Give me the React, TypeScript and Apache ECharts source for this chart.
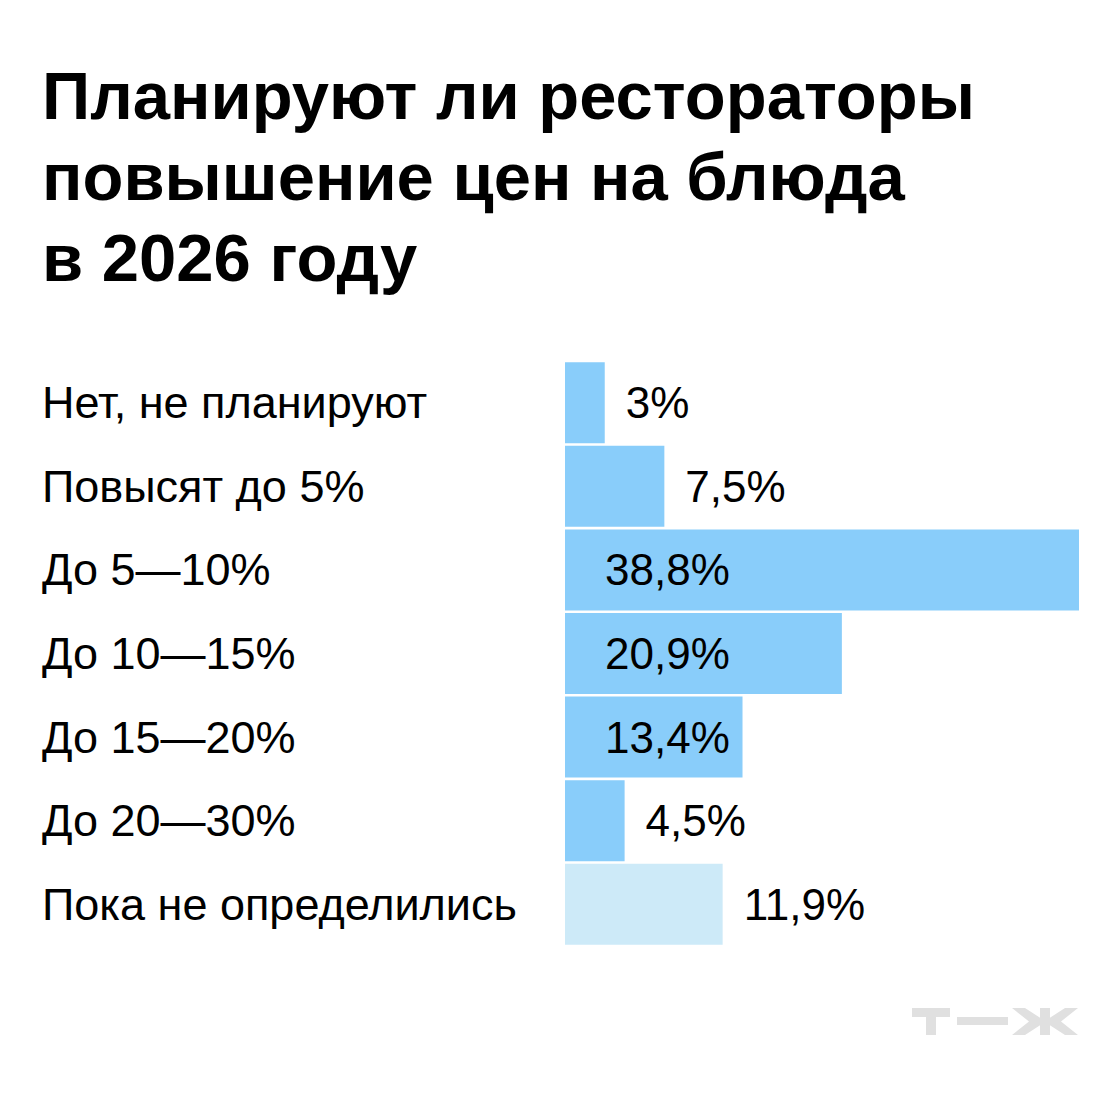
import React, { useEffect, useRef } from "react";
import * as echarts from "echarts";

const titleText = "Планируют ли рестораторы\nповышение цен на блюда\nв 2026 году";
const categories = [
  "Нет, не планируют",
  "Повысят до 5%",
  "До 5—10%",
  "До 10—15%",
  "До 15—20%",
  "До 20—30%",
  "Пока не определились",
];
const values = [3, 7.5, 38.8, 20.9, 13.4, 4.5, 11.9];
const valueLabels = ["3%", "7,5%", "38,8%", "20,9%", "13,4%", "4,5%", "11,9%"];
const labelInside = [false, false, true, true, true, false, false];
const undecided = [false, false, false, false, false, false, true];

const FONT = "'Liberation Sans', Arial, sans-serif";
const BAR = "#89CDFA";
const BAR_LIGHT = "#CDEAF8";
const LOGO = "#E0E0E0";

export default function App() {
  const ref = useRef<HTMLDivElement>(null);
  useEffect(() => {
    if (!ref.current) return;
    const chart = echarts.init(ref.current, null, { renderer: "svg" });
    const data = values.map((v, i) => ({
      value: v,
      itemStyle: { color: undecided[i] ? BAR_LIGHT : BAR },
      label: labelInside[i]
        ? { position: "insideLeft", distance: 40 }
        : { position: "right", distance: 21 },
    }));
    chart.setOption({
      animation: false,
      backgroundColor: "#ffffff",
      title: {
        text: titleText,
        left: 42,
        top: 55,
        padding: 0,
        textStyle: {
          fontFamily: FONT,
          fontWeight: "bold",
          fontSize: 67,
          lineHeight: 81,
          color: "#000000",
        },
      },
      grid: { left: 565, top: 361, width: 514, height: 585, containLabel: false },
      xAxis: {
        type: "value",
        min: 0,
        max: 38.8,
        show: false,
      },
      yAxis: {
        type: "category",
        data: categories,
        inverse: true,
        axisLine: { show: false },
        axisTick: { show: false },
        splitLine: { show: false },
        axisLabel: {
          align: "left",
          margin: 523,
          fontFamily: FONT,
          fontSize: 45,
          color: "#000000",
        },
      },
      series: [
        {
          type: "bar",
          data,
          barWidth: 81,
          label: {
            show: true,
            fontFamily: FONT,
            fontSize: 44,
            color: "#000000",
            formatter: (p: any) => valueLabels[p.dataIndex],
          },
        },
      ],
      graphic: [
        { type: "rect", shape: { x: 912, y: 1008, width: 38, height: 9 }, style: { fill: LOGO } },
        { type: "rect", shape: { x: 926, y: 1008, width: 10, height: 27 }, style: { fill: LOGO } },
        { type: "rect", shape: { x: 957, y: 1017, width: 51, height: 8 }, style: { fill: LOGO } },
        { type: "rect", shape: { x: 1040, y: 1008, width: 10, height: 27 }, style: { fill: LOGO } },
        {
          type: "polygon",
          shape: { points: [[1012, 1008], [1025, 1008], [1042, 1019], [1042, 1024], [1025, 1035], [1012, 1035], [1029, 1021.5]] },
          style: { fill: LOGO },
        },
        {
          type: "polygon",
          shape: { points: [[1078, 1008], [1065, 1008], [1048, 1019], [1048, 1024], [1065, 1035], [1078, 1035], [1061, 1021.5]] },
          style: { fill: LOGO },
        },
      ],
    });
    return () => chart.dispose();
  }, []);
  return <div ref={ref} style={{ width: 1120, height: 1116, margin: -8 }} />;
}
